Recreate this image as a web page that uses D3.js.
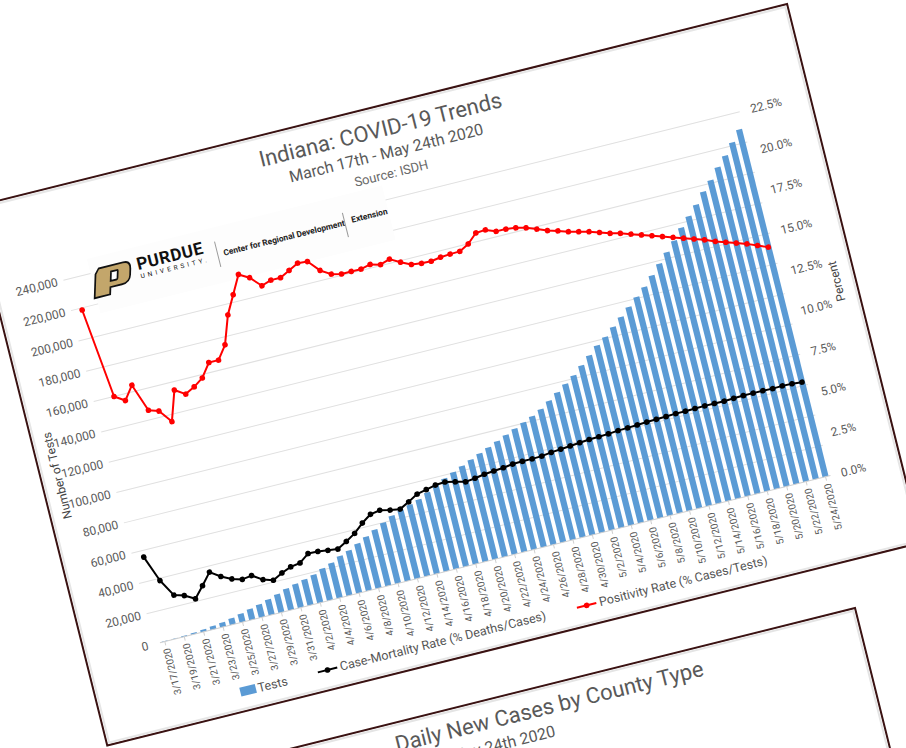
<!DOCTYPE html>
<html>
<head>
<meta charset="utf-8">
<script src="https://cdn.jsdelivr.net/npm/d3@7"></script>
<style>
  html, body { margin: 0; padding: 0; background: #ffffff; }
  svg { display: block; }
  text { font-family: Roboto, "Noto Sans", sans-serif; }
</style>
</head>
<body>
<svg id="chart" width="906" height="748"></svg>
<script>
// ---------------- DATA ----------------
const dates = [
  "3/17/2020","3/18/2020","3/19/2020","3/20/2020","3/21/2020","3/22/2020","3/23/2020","3/24/2020",
  "3/25/2020","3/26/2020","3/27/2020","3/28/2020","3/29/2020","3/30/2020","3/31/2020",
  "4/1/2020","4/2/2020","4/3/2020","4/4/2020","4/5/2020","4/6/2020","4/7/2020","4/8/2020",
  "4/9/2020","4/10/2020","4/11/2020","4/12/2020","4/13/2020","4/14/2020","4/15/2020","4/16/2020",
  "4/17/2020","4/18/2020","4/19/2020","4/20/2020","4/21/2020","4/22/2020","4/23/2020","4/24/2020",
  "4/25/2020","4/26/2020","4/27/2020","4/28/2020","4/29/2020","4/30/2020",
  "5/1/2020","5/2/2020","5/3/2020","5/4/2020","5/5/2020","5/6/2020","5/7/2020","5/8/2020",
  "5/9/2020","5/10/2020","5/11/2020","5/12/2020","5/13/2020","5/14/2020","5/15/2020","5/16/2020",
  "5/17/2020","5/18/2020","5/19/2020","5/20/2020","5/21/2020","5/22/2020","5/23/2020","5/24/2020"
];
// cumulative tests
const tests = [
  300, 400, 600, 1000, 1500, 2200, 3000, 4200,
  5500, 7000, 8500, 10200, 12000, 14000, 15500,
  17000, 18500, 21000, 23000, 26000, 28000, 31000, 34000,
  37000, 40000, 43000, 45000, 47000, 49000, 52000, 55500,
  58000, 60500, 63000, 65500, 68000, 70500, 73000, 75500,
  78000, 80500, 83000, 86000, 90000, 94000,
  98000, 102000, 107000, 112000, 117000, 121000, 126000, 131000,
  136000, 141000, 146000, 152000, 158000, 164000, 170000, 177000,
  183000, 189000, 196000, 202000, 209000, 215000, 222000, 229000
];
// Case-mortality rate (% deaths / cases)
const mortality = [
  5.22, 3.62, 2.57, 2.39, 2.04, 2.70, 3.39, 2.97,
  2.67, 2.49, 2.58, 2.18, 1.99, 2.29, 2.52,
  2.61, 3.04, 3.02, 2.94, 2.87, 3.19, 3.54, 4.03,
  4.42, 4.52, 4.38, 4.29, 4.59, 4.92, 5.05, 5.18,
  5.22, 5.08, 4.93, 5.00, 5.10, 5.15, 5.20, 5.28,
  5.30, 5.30, 5.32, 5.40, 5.45, 5.50,
  5.55, 5.60, 5.62, 5.65, 5.70, 5.72, 5.75, 5.78,
  5.80, 5.82, 5.85, 5.85, 5.87, 5.88, 5.88, 5.87,
  5.90, 5.92, 5.92, 5.92, 5.90, 5.92, 5.90, 5.85
];
// Positivity rate (% cases / tests)
const positivity = [
  20.5, 15.0, 14.6, 15.4, 13.7, 13.5, 12.7, 14.5,
  14.1, 14.4, 14.8, 15.6, 15.6, 16.4, 18.1,
  19.2, 20.3, 19.95, 19.3, 19.5, 19.5, 19.8, 20.1,
  20.05, 19.35, 18.97, 18.83, 18.84, 18.83, 18.97, 18.81,
  19.0, 18.66, 18.37, 18.29, 18.27, 18.37, 18.41, 18.43,
  18.74, 19.27, 19.31, 19.07, 19.06, 18.99,
  18.84, 18.61, 18.37, 18.2, 18.0, 17.85, 17.7, 17.5,
  17.3, 17.15, 16.95, 16.75, 16.55, 16.35, 16.15, 15.95,
  15.75, 15.55, 15.3, 15.1, 14.9, 14.7, 14.45, 14.2
];
const leftTicks = [0,20000,40000,60000,80000,100000,120000,140000,160000,180000,200000,220000,240000];
const rightTicks = [0,2.5,5,7.5,10,12.5,15,17.5,20,22.5];
const legendLabels = ["Tests","Case-Mortality Rate (% Deaths/Cases)","Positivity Rate (% Cases/Tests)"];
const titleText = "Indiana: COVID-19 Trends";
const subtitleText = "March 17th - May 24th 2020";
const sourceText = "Source: ISDH";
const title2Text = "Daily New Cases by County Type";
const subtitle2Text = "March 17th - May 24th 2020";

// ---------------- DRAW ----------------
const svg = d3.select("#chart");
const BORDER = "#3a1212";
const BLUE = "#5b9bd5";

// ---- second card (partially visible, bottom) ----
const g2 = svg.append("g").attr("transform", "translate(855,608) rotate(-14)");
g2.append("rect").attr("x", -900).attr("y", 0).attr("width", 900).attr("height", 700)
  .attr("fill", "#ffffff").attr("stroke", BORDER).attr("stroke-width", 2);
g2.append("rect").attr("x", -900).attr("y", 2.5).attr("width", 897.5).attr("height", 700)
  .attr("fill", "none").attr("stroke", "#e4e4e4").attr("stroke-width", 2);
g2.append("text").attr("x", -162).attr("y", 29).attr("text-anchor", "end")
  .attr("font-size", 22).attr("fill", "#595959").text(title2Text);
g2.append("text").attr("x", -321).attr("y", 52).attr("text-anchor", "end")
  .attr("font-size", 16).attr("fill", "#595959").text(subtitle2Text);

// ---- main card ----
const W = 839, H = 555;
const g = svg.append("g").attr("transform", "translate(-27,207) rotate(-14)");
g.append("rect").attr("x", 0).attr("y", 0).attr("width", W).attr("height", H)
  .attr("fill", "#ffffff").attr("stroke", BORDER).attr("stroke-width", 2);
g.append("rect").attr("x", 2.5).attr("y", 2.5).attr("width", W - 5).attr("height", H - 5)
  .attr("fill", "none").attr("stroke", "#e6e6e6").attr("stroke-width", 2);

const plotL = 76, plotR = 767, plotT = 93, plotB = 468;
const x = d3.scaleBand().domain(dates).range([plotL, plotR]).paddingInner(0.38).paddingOuter(0.19);
const yL = d3.scaleLinear().domain([0, 240000]).range([plotB, plotT]);
const yR = d3.scaleLinear().domain([0, 22.5]).range([plotB, plotT]);
const cx = d => x(d) + x.bandwidth() / 2;

// gridlines
g.append("g").selectAll("line").data(leftTicks.slice(1)).join("line")
  .attr("x1", plotL - 6).attr("x2", plotR)
  .attr("y1", d => yL(d)).attr("y2", d => yL(d))
  .attr("stroke", "#e0e0e0").attr("stroke-width", 1);

// logo box (covers gridlines, under the data)
const logo = g.append("g");
logo.append("rect").attr("x", 98).attr("y", 78).attr("width", 304).attr("height", 56)
  .attr("fill", "#fdfdfd");
// Purdue motion "P"
logo.append("path")
  .attr("transform", "translate(104,90) skewX(-16)")
  .attr("d", "M3,0 H28 Q36,0 36,8 V14 Q36,21 28,21 H16 V28 H0 V5 Z M16,6 H22 Q23,6 23,7 V14 Q23,15 22,15 H16 Z")
  .attr("fill-rule", "evenodd").attr("fill", "#c3a66b").attr("stroke", "#111").attr("stroke-width", 1.8);
logo.append("text").attr("x", 145).attr("y", 101).attr("font-family", "'Liberation Serif', 'DejaVu Serif', serif")
  .attr("font-weight", "bold").attr("font-size", 17).attr("letter-spacing", 0.6).attr("fill", "#111").text("PURDUE");
logo.append("text").attr("x", 146).attr("y", 110).attr("font-family", "'Liberation Serif', 'DejaVu Serif', serif")
  .attr("font-size", 6.5).attr("letter-spacing", 3.1).attr("fill", "#111").text("UNIVERSITY.");
logo.append("line").attr("x1", 226).attr("x2", 226).attr("y1", 92).attr("y2", 118).attr("stroke", "#9a9a9a");
logo.append("text").attr("x", 232).attr("y", 108).attr("font-family", "'Liberation Sans Narrow', 'Liberation Sans', sans-serif")
  .attr("font-weight", "bold").attr("font-size", 8.4).attr("fill", "#222").text("Center for Regional Development");
logo.append("line").attr("x1", 357).attr("x2", 357).attr("y1", 95).attr("y2", 120).attr("stroke", "#9a9a9a");
logo.append("text").attr("x", 364).attr("y", 107).attr("font-family", "'Liberation Sans Narrow', 'Liberation Sans', sans-serif")
  .attr("font-weight", "bold").attr("font-size", 8.4).attr("fill", "#222").text("Extension");

// left axis labels
g.append("g").selectAll("text").data(leftTicks).join("text")
  .attr("x", 64).attr("y", d => yL(d)).attr("dy", "0.35em")
  .attr("text-anchor", "end").attr("font-size", 12).attr("fill", "#5a5a5a")
  .text(d => d3.format(",")(d));

// right axis labels
g.append("g").selectAll("text").data(rightTicks).join("text")
  .attr("x", 778).attr("y", d => yR(d)).attr("dy", "0.35em")
  .attr("text-anchor", "start").attr("font-size", 12).attr("fill", "#5a5a5a")
  .text(d => d3.format(".1f")(d) + "%");

// axis titles
g.append("text").attr("transform", "translate(21,281) rotate(-90)")
  .attr("text-anchor", "middle").attr("font-size", 12).attr("fill", "#444")
  .text("Number of Tests");
g.append("text").attr("transform", "translate(824,281) rotate(-90)")
  .attr("text-anchor", "middle").attr("font-size", 12).attr("fill", "#444")
  .text("Percent");

// bars
g.append("g").selectAll("rect").data(dates).join("rect")
  .attr("x", d => x(d)).attr("width", x.bandwidth())
  .attr("y", (d, i) => yL(tests[i])).attr("height", (d, i) => plotB - yL(tests[i]))
  .attr("fill", BLUE);

// baseline
g.append("line").attr("x1", plotL).attr("x2", plotR).attr("y1", plotB).attr("y2", plotB)
  .attr("stroke", "#cfcfcf").attr("stroke-width", 1);

// x ticks + labels (every other date)
const labeled = dates.filter((d, i) => i % 2 === 0);
g.append("g").selectAll("line").data(labeled).join("line")
  .attr("x1", d => cx(d)).attr("x2", d => cx(d)).attr("y1", plotB).attr("y2", plotB + 4)
  .attr("stroke", "#cfcfcf");
g.append("g").selectAll("text").data(labeled).join("text")
  .attr("transform", d => `translate(${cx(d) + 3.5},${plotB + 7}) rotate(-90)`)
  .attr("text-anchor", "end").attr("font-size", 10).attr("fill", "#5a5a5a")
  .text(d => d);

// lines
function drawSeries(vals, color) {
  const line = d3.line().x((v, i) => cx(dates[i])).y(v => yR(v));
  g.append("path").datum(vals).attr("d", line).attr("fill", "none")
    .attr("stroke", color).attr("stroke-width", 2).attr("stroke-linejoin", "round");
  g.append("g").selectAll("circle").data(vals).join("circle")
    .attr("cx", (v, i) => cx(dates[i])).attr("cy", v => yR(v)).attr("r", 2.8)
    .attr("fill", color);
}
drawSeries(mortality, "#000000");
drawSeries(positivity, "#ff0000");

// titles
g.append("text").attr("x", 414).attr("y", 31).attr("text-anchor", "middle")
  .attr("font-size", 22).attr("fill", "#595959").text(titleText);
g.append("text").attr("x", 414).attr("y", 53).attr("text-anchor", "middle")
  .attr("font-size", 16).attr("fill", "#595959").text(subtitleText);
g.append("text").attr("x", 414).attr("y", 73).attr("text-anchor", "middle")
  .attr("font-size", 13).attr("fill", "#6a6a6a").text(sourceText);

// legend
const leg = g.append("g").attr("font-size", 12.5).attr("fill", "#555");
leg.append("rect").attr("x", 142).attr("y", 531).attr("width", 16).attr("height", 9).attr("fill", BLUE);
leg.append("text").attr("x", 160).attr("y", 540).text(legendLabels[0]);
leg.append("line").attr("x1", 222).attr("x2", 242).attr("y1", 535).attr("y2", 535).attr("stroke", "#000").attr("stroke-width", 2);
leg.append("circle").attr("cx", 232).attr("cy", 535).attr("r", 2.8).attr("fill", "#000");
leg.append("text").attr("x", 245).attr("y", 539).text(legendLabels[1]);
leg.append("line").attr("x1", 489).attr("x2", 509).attr("y1", 535).attr("y2", 535).attr("stroke", "#f00").attr("stroke-width", 2);
leg.append("circle").attr("cx", 499).attr("cy", 535).attr("r", 2.8).attr("fill", "#f00");
leg.append("text").attr("x", 512).attr("y", 539).text(legendLabels[2]);
</script>
</body>
</html>
